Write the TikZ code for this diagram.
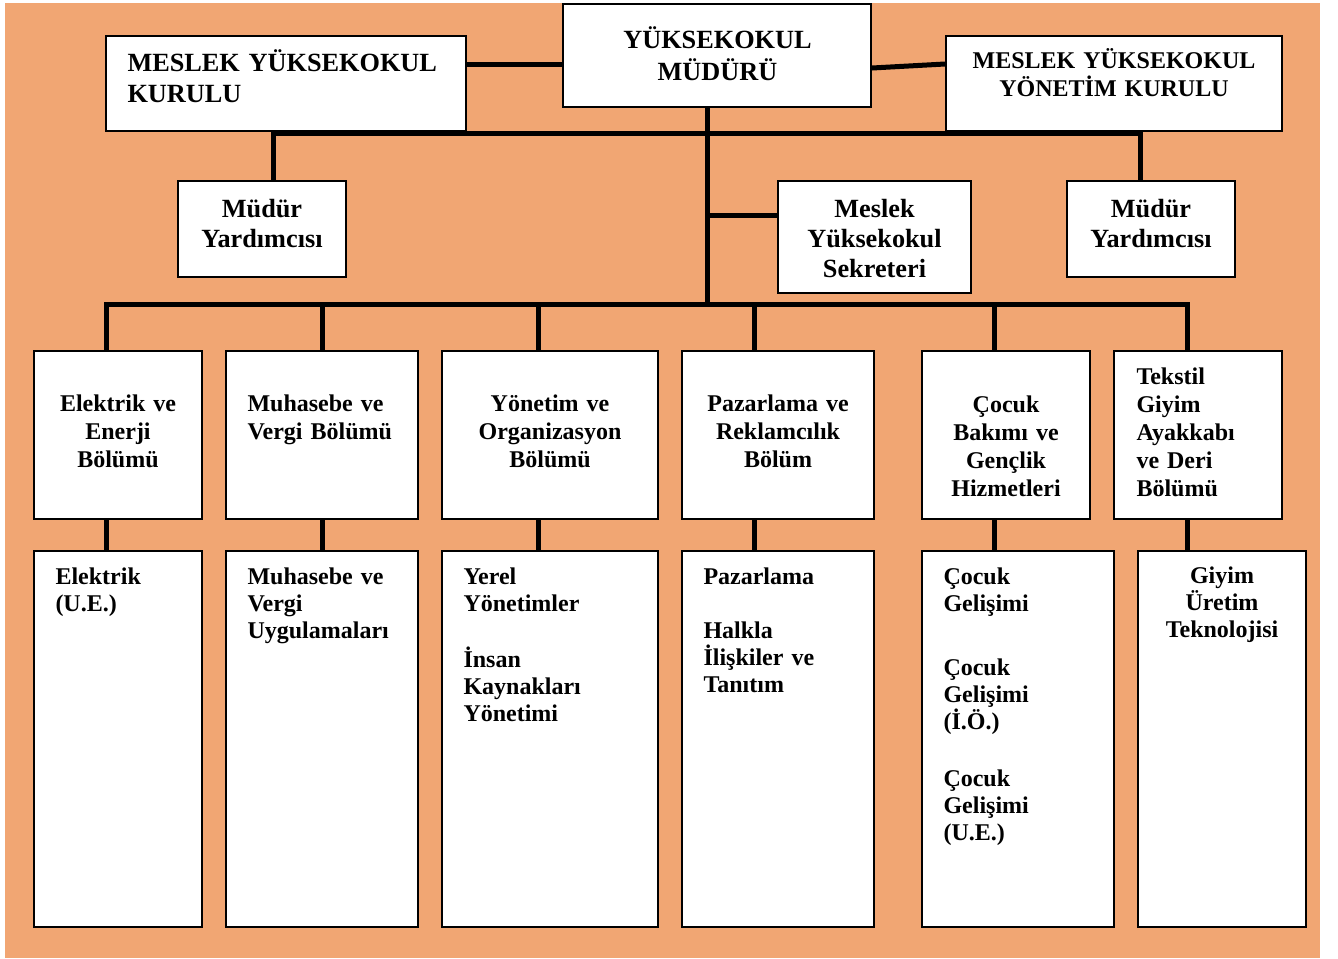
\documentclass[tikz,border=0pt]{standalone}
\usepackage{fontspec}
\setmainfont{Liberation Serif}
\definecolor{bgorange}{RGB}{241,166,115}
\tikzset{every picture/.style={line width=0.75pt}}

\begin{document}
\begin{tikzpicture}[x=0.75pt,y=0.75pt,yscale=-1,xscale=1,
	box/.style={draw, fill=white, line width=1.5pt, inner sep=0pt},
	link/.style={line width=3.75pt},
	bigtxt/.style={inner sep=0pt, font=\bfseries\fontsize{19.7}{#1}\selectfont},
	bigtxt/.default=22.5,
	txt/.style={inner sep=0pt, font=\bfseries\fontsize{18}{#1}\selectfont},
	txt/.default=21]
	\useasboundingbox (0,0) rectangle (1338,958);

	%Shape: Background
	\fill [white] (0,0) rectangle (1338,958);
	\fill [bgorange] (5,3) rectangle (1320,958);

	%Shape: Rectangle (top row)
	\node [box, minimum width=231pt, minimum height=77.25pt] (mudur) at (717,55.5) {};
	\node [box, minimum width=270pt, minimum height=71.25pt] (kurul) at (286,83.5) {};
	\node [box, minimum width=252pt, minimum height=71.25pt] (ykurul) at (1114,83.5) {};
	%Shape: Rectangle (second row)
	\node [box, minimum width=126pt, minimum height=72pt] (yrdA) at (262,229) {};
	\node [box, minimum width=144.75pt, minimum height=84pt] (sekr) at (874.5,237) {};
	\node [box, minimum width=126pt, minimum height=72pt] (yrdB) at (1151,229) {};
	%Shape: Rectangle (departments)
	\node [box, minimum width=126pt, minimum height=126pt] (d1) at (118,435) {};
	\node [box, minimum width=144pt, minimum height=126pt] (d2) at (322,435) {};
	\node [box, minimum width=162pt, minimum height=126pt] (d3) at (550,435) {};
	\node [box, minimum width=144pt, minimum height=126pt] (d4) at (778,435) {};
	\node [box, minimum width=126pt, minimum height=126pt] (d5) at (1006,435) {};
	\node [box, minimum width=126pt, minimum height=126pt] (d6) at (1198,435) {};
	%Shape: Rectangle (programmes)
	\node [box, minimum width=126pt, minimum height=282pt] (p1) at (118,739) {};
	\node [box, minimum width=144pt, minimum height=282pt] (p2) at (322,739) {};
	\node [box, minimum width=162pt, minimum height=282pt] (p3) at (550,739) {};
	\node [box, minimum width=144pt, minimum height=282pt] (p4) at (778,739) {};
	\node [box, minimum width=144pt, minimum height=282pt] (p5) at (1018,739) {};
	\node [box, minimum width=126pt, minimum height=282pt] (p6) at (1222,739) {};

	\coordinate (armL) at (273,133.5);
	\coordinate (armR) at (1140,133.5);
	\coordinate (trunk) at (707,304);
	\coordinate (busL) at (106,304);
	\coordinate (busR) at (1187,304);

	%Straight Lines
	\draw [link] (kurul.east |- 0,64.5) -- (mudur.west |- 0,64.5);
	\draw [link] (mudur.east |- 0,68) -- (ykurul.west |- 0,64);
	\draw [link] (trunk |- mudur.south) -- (trunk);
	\draw [link] (armL |- yrdA.north) -- (armL) -- (armR) -- (armR |- yrdB.north);
	\draw [link] (trunk |- 0,215) -- (sekr.west |- 0,215);
	\draw [link] (busL |- d1.north) -- (busL) -- (busR) -- (busR |- d6.north);
	\foreach \d/\x in {d2/322, d3/538, d4/754, d5/994}
		\draw [link] (\x,304) -- (\x,0 |- \d.north);
	\foreach \d/\p/\x in {d1/p1/106, d2/p2/322, d3/p3/538, d4/p4/754, d5/p5/994, d6/p6/1187}
		\draw [link] (\x,0 |- \d.south) -- (\x,0 |- \p.north);

	% Text Node
	\node [bigtxt=24, text width=231pt, align=center, anchor=base] (tMudur) at (717.5,48) {YÜKSEKOKUL\\MÜDÜRÜ};
	% Text Node
	\node [bigtxt=23.25, text width=250pt, align=left, anchor=base west] (tKurul) at (127,71) {MESLEK YÜKSEKOKUL\\KURULU};
	% Text Node
	\node [txt, text width=252pt, align=center, anchor=base] (tYKurul) at (1114,68) {MESLEK YÜKSEKOKUL\\YÖNETİM KURULU};
	% Text Node
	\node [bigtxt, text width=126pt, align=center, anchor=base] (tYrdA) at (262,217) {Müdür\\Yardımcısı};
	% Text Node
	\node [bigtxt, text width=144pt, align=center, anchor=base] (tSekr) at (874.5,217) {Meslek\\Yüksekokul\\Sekreteri};
	% Text Node
	\node [bigtxt, text width=126pt, align=center, anchor=base] (tYrdB) at (1151,217) {Müdür\\Yardımcısı};

	% Text Node
	\node [txt, text width=126pt, align=center, anchor=base] (tD1) at (118,411) {Elektrik ve\\Enerji\\Bölümü};
	% Text Node
	\node [txt, text width=125pt, align=left, anchor=base west] (tD2) at (247,411) {Muhasebe ve\\Vergi Bölümü};
	% Text Node
	\node [txt, text width=162pt, align=center, anchor=base] (tD3) at (550,411) {Yönetim ve\\Organizasyon\\Bölümü};
	% Text Node
	\node [txt, text width=144pt, align=center, anchor=base] (tD4) at (778,411) {Pazarlama ve\\Reklamcılık\\Bölüm};
	% Text Node
	\node [txt, text width=126pt, align=center, anchor=base] (tD5) at (1006,412) {Çocuk\\Bakımı ve\\Gençlik\\Hizmetleri};
	% Text Node
	\node [txt, text width=108pt, align=left, anchor=base west] (tD6) at (1136,384) {Tekstil\\Giyim\\Ayakkabı\\ve Deri\\Bölümü};

	% Text Node
	\node [txt=20.6, text width=108pt, align=left, anchor=base west] (tP1) at (55,584) {Elektrik\\(U.E.)};
	% Text Node
	\node [txt=20.4, text width=125pt, align=left, anchor=base west] (tP2) at (247,584) {Muhasebe ve\\Vergi\\Uygulamaları};
	% Text Node
	\node [txt=20.25, text width=140pt, align=left, anchor=base west] (tP3) at (463,584) {Yerel\\Yönetimler\\[21.75pt]İnsan\\Kaynakları\\Yönetimi};
	% Text Node
	\node [txt=20.4, text width=125pt, align=left, anchor=base west] (tP4) at (703,584) {Pazarlama\\[20.1pt]Halkla\\İlişkiler ve\\Tanıtım};
	% Text Node
	\node [txt=20.25, text width=125pt, align=left, anchor=base west] (tP5) at (943,584) {Çocuk\\Gelişimi\\[27.75pt]Çocuk\\Gelişimi\\(İ.Ö.)\\[22.5pt]Çocuk\\Gelişimi\\(U.E.)};
	% Text Node
	\node [txt=20.4, text width=126pt, align=center, anchor=base] (tP6) at (1222,583) {Giyim\\Üretim\\Teknolojisi};

\end{tikzpicture}
\end{document}
